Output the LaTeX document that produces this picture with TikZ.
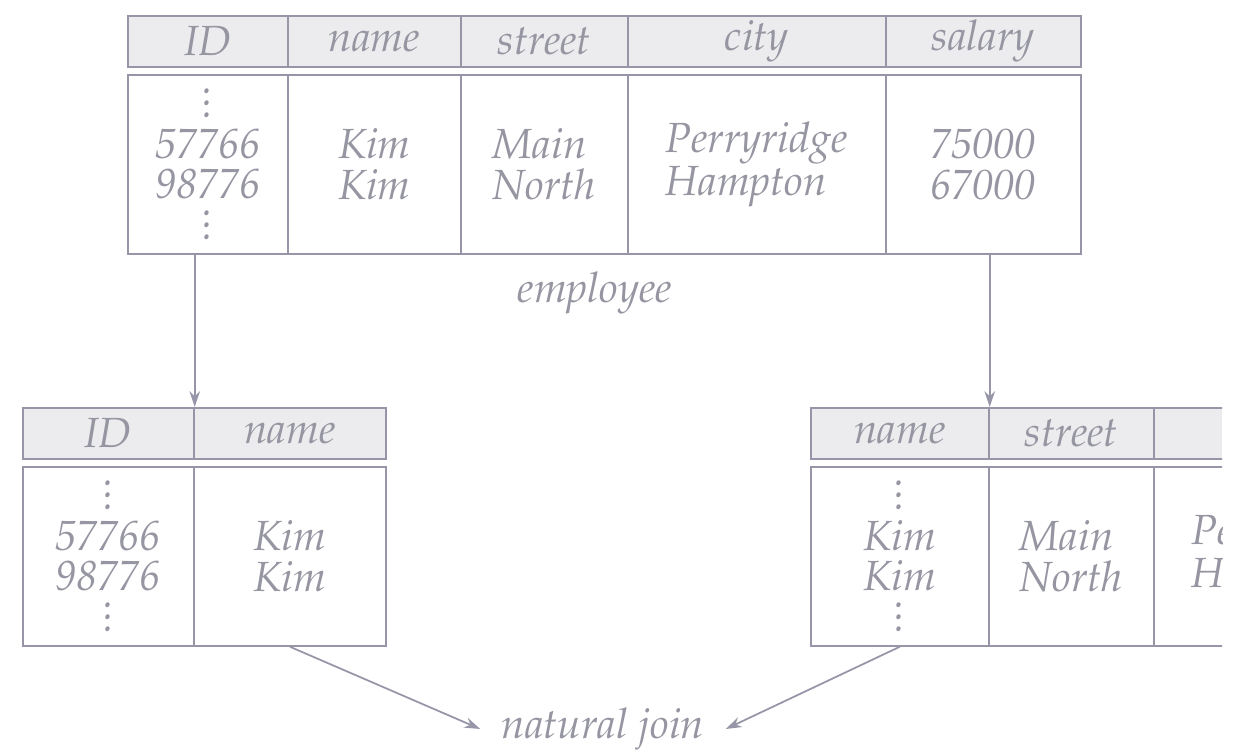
\documentclass[tikz,border=0pt]{standalone}
\usepackage[T1]{fontenc}
\renewcommand{\rmdefault}{ppl}
\usetikzlibrary{arrows.meta}

\definecolor{tblline}{RGB}{150,150,168}
\definecolor{hdfill}{RGB}{236,236,238}
\definecolor{ink}{RGB}{150,150,162}

\newcommand{\tabfont}{\fontsize{24}{23.2}\selectfont\itshape}
\newcommand{\coldots}{\vbox{\baselineskip6.8pt\lineskiplimit0pt\hbox{.}\hbox{.}\hbox{.}}}

\tikzset{
  hd/.style={draw=tblline, fill=hdfill, line width=1pt, anchor=north west, minimum height=1.02cm,
             inner sep=0pt, font=\tabfont, text=ink},
  bd/.style={draw=tblline, line width=1pt, anchor=north west, minimum height=3.58cm,
             inner sep=0pt, align=left, font=\tabfont, text=ink},
  lbl/.style={font=\tabfont, text=ink, inner xsep=12pt},
  arr/.style={draw=tblline, line width=1pt, -{Stealth[length=9pt,width=6pt]}}
}

\begin{document}
\begin{tikzpicture}[x=0.02cm, y=-0.02cm]
  \useasboundingbox (0,0) rectangle (1241,753);

  % employee
  \node[hd, minimum width=3.2cm]  (e-hid)   at (127,15) {ID};
  \node[hd, minimum width=3.46cm] (e-hname) at (287,15) {name};
  \node[hd, minimum width=3.34cm] (e-hstr)  at (460,15) {street};
  \node[hd, minimum width=5.16cm] (e-hcity) at (627,15) {city};
  \node[hd, minimum width=3.9cm]  (e-hsal)  at (885,15) {salary};

  \node[bd, align=center, minimum width=3.2cm] (e-bid) at (127,74) {\coldots\\57766\\98776\\\coldots};
  \node[bd, minimum width=3.46cm] (e-bname) at (287,74) {Kim\\Kim};
  \node[bd, minimum width=3.34cm] (e-bstr)  at (460,74) {Main\\North};
  \node[bd, minimum width=5.16cm] (e-bcity) at (627,74) {Perryridge\\Hampton};
  \node[bd, minimum width=3.9cm]  (e-bsal)  at (885,74) {75000\\67000};

  \node[lbl] (emp) at (595,293) {employee};

  % left projection
  \node[hd, minimum width=3.42cm] (p-hid)   at (22,407)  {ID};
  \node[hd, minimum width=3.84cm] (p-hname) at (193,407) {name};
  \node[bd, align=center, minimum width=3.42cm] (p-bid) at (22,466) {\coldots\\57766\\98776\\\coldots};
  \node[bd, minimum width=3.84cm] (p-bname) at (193,466) {Kim\\Kim};

  % right projection, cut at the edge
  \begin{scope}
    \clip (0,0) rectangle (1222,753);
    \node[hd, minimum width=3.56cm] (r-hname) at (810,407)  {name};
    \node[hd, minimum width=3.3cm]  (r-hstr)  at (988,407)  {street};
    \node[hd, minimum width=5.16cm] (r-hcity) at (1153,407) {};
    \node[bd, align=center, minimum width=3.56cm] (r-bname) at (810,466) {\coldots\\Kim\\Kim\\\coldots};
    \node[bd, minimum width=3.3cm]  (r-bstr)  at (988,466)  {Main\\North};
    \node[bd, minimum width=5.16cm] (r-bcity) at (1153,466) {Perryridge\\Hampton};
  \end{scope}

  \node[lbl] (join) at (603,729) {natural join};

  \draw[arr] (e-bid.south -| p-hid.north east) -- (p-hid.north east);
  \draw[arr] (e-bsal.south -| r-hname.north east) -- (r-hname.north east);
  \draw[arr] (p-bname.south) -- (join.west);
  \draw[arr] (r-bname.south) -- (join.east);
\end{tikzpicture}
\end{document}
